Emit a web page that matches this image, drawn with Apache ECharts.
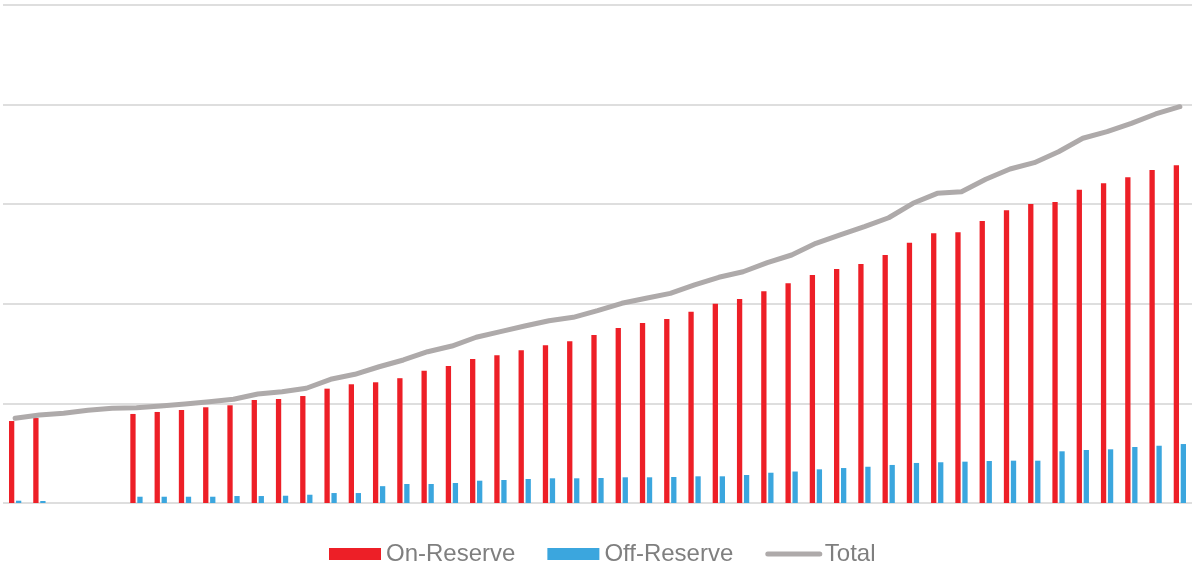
<!DOCTYPE html>
<html>
<head>
<meta charset="utf-8">
<script src="https://cdn.jsdelivr.net/npm/echarts@6/dist/echarts.min.js"></script>
<style>
html,body{margin:0;padding:0;background:#fff;}
#chart{width:1192px;height:568px;}
</style>
</head>
<body>
<div id="chart"></div>
<script>
var categories = ['1','2','3','4','5','6','7','8','9','10','11','12','13','14','15','16','17','18','19','20','21','22','23','24','25','26','27','28','29','30','31','32','33','34','35','36','37','38','39','40','41','42','43','44','45','46','47','48','49'];
var onReserve = [82.3,85.3,null,null,null,89.4,91.4,93.4,96.1,98.1,103.4,104.4,107.4,114.8,119.2,121.2,125.3,132.8,137.6,144.6,148.3,153.3,158.3,162.3,168.7,175.7,180.7,184.7,192.1,200.1,204.8,212.6,220.6,228.9,234.9,240,249,261.3,270.8,271.8,283.1,293.9,300.2,302.2,314.6,321,327,334.3,339];
var offReserve = [2.3,2,null,null,null,6.3,6.3,6.3,6.3,7,7,7.3,8.3,10,10,16.9,19.1,19.1,20.1,22.4,23.1,24.1,24.8,24.8,25.1,25.8,25.8,26.1,26.8,26.8,28.1,30.4,31.6,33.8,35.1,36.4,38.2,40.2,40.9,41.5,42.2,42.5,42.5,51.9,53.2,53.9,56.2,57.5,59.2];
var total = [85,88.4,90.1,93.1,95.1,95.7,97.4,99.4,101.7,104.1,109.4,111.7,115.2,124.2,129.2,136.8,143.6,151.9,157.6,166.4,172,177.7,183,186.4,193.1,200.5,205.5,210.5,218.9,226.6,232.2,241.3,249,260.7,269.1,277.4,286.4,300.9,310.9,312.6,325,335.3,341.7,352.7,366.2,372.8,381.2,390.6,397.9];
var yTicks = {min: 0, max: 500, interval: 100};

var chart = echarts.init(document.getElementById('chart'));
chart.setOption({
  animation: false,
  backgroundColor: '#ffffff',
  grid: {left: 3, right: 0, top: 5, bottom: 65, containLabel: false},
  legend: {
    left: 329, top: 542, padding: 0,
    itemWidth: 52, itemHeight: 12, itemGap: 32,
    textStyle: {fontFamily: 'Liberation Sans, Arial, sans-serif', fontSize: 24, color: '#7f7f7f'},
    data: [
      {name: 'On-Reserve', icon: 'rect'},
      {name: 'Off-Reserve', icon: 'rect'},
      {name: 'Total', itemStyle: {opacity: 0}, lineStyle: {color: '#aeaaaa', width: 5, cap: 'round'}}
    ]
  },
  xAxis: {
    type: 'category',
    data: categories,
    axisLine: {show: false},
    axisTick: {show: false},
    axisLabel: {show: false},
    splitLine: {show: false}
  },
  yAxis: {
    type: 'value',
    min: yTicks.min, max: yTicks.max, interval: yTicks.interval,
    axisLine: {show: false},
    axisTick: {show: false},
    axisLabel: {show: false},
    splitLine: {show: true, lineStyle: {color: '#dedede', width: 2}}
  },
  series: [
    {
      name: 'On-Reserve', type: 'bar', data: onReserve,
      barWidth: 5.3, barGap: '32%',
      itemStyle: {color: '#ed1f27'}
    },
    {
      name: 'Off-Reserve', type: 'bar', data: offReserve,
      barWidth: 5.3,
      itemStyle: {color: '#3ba6de'}
    },
    {
      name: 'Total', type: 'line', data: total,
      symbol: 'none', smooth: false,
      lineStyle: {color: '#aeaaaa', width: 5, cap: 'round', join: 'round'},
      itemStyle: {color: '#aeaaaa'},
      z: 3
    }
  ]
});
</script>
</body>
</html>
